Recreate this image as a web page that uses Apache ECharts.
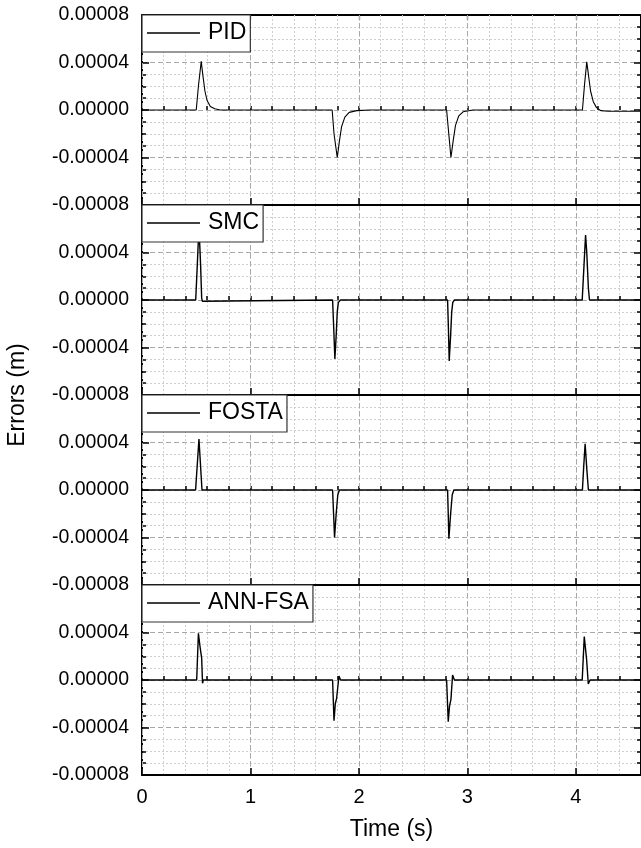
<!DOCTYPE html>
<html>
<head>
<meta charset="utf-8">
<script src="https://cdn.jsdelivr.net/npm/echarts@6/dist/echarts.min.js"></script>
<style>html,body{margin:0;padding:0;background:#fff;}#c{width:641px;height:848px;}</style>
</head>
<body>
<div id="c"></div>
<script>
// Data (time in s, error in m)
const seriesNames = ['PID', 'SMC', 'FOSTA', 'ANN-FSA'];
const yTicks = [-0.00008, -0.00004, 0, 0.00004, 0.00008];
const xTicks = [0, 1, 2, 3, 4];
const xMax = 4.6;

const pidData = [
  [0,0],[0.5,0],[0.52,2.0e-5],[0.546,4.1e-5],[0.56,3.0e-5],[0.58,1.6e-5],[0.60,0.8e-5],[0.63,0.3e-5],[0.67,0.1e-5],[0.72,0],
  [1.753,0],[1.77,-2.0e-5],[1.80,-4.0e-5],[1.82,-2.6e-5],[1.84,-1.4e-5],[1.87,-0.6e-5],[1.91,-0.2e-5],[1.98,-0.05e-5],[2.1,0],
  [2.808,0],[2.83,-2.2e-5],[2.848,-4.0e-5],[2.87,-2.5e-5],[2.89,-1.3e-5],[2.92,-0.5e-5],[2.96,-0.15e-5],[3.05,0],
  [4.06,0],[4.08,2.2e-5],[4.10,4.05e-5],[4.115,3.0e-5],[4.135,1.6e-5],[4.16,0.7e-5],[4.19,0.2e-5],[4.23,-0.05e-5],[4.3,-0.1e-5],[4.6,-0.1e-5]
];
const smcData = [
  [0,0],[0.495,0],[0.51,3.0e-5],[0.525,6.2e-5],[0.54,3.0e-5],[0.55,0.2e-5],[0.556,-0.1e-5],[0.57,0],
  [1.757,0],[1.768,-2.5e-5],[1.778,-4.97e-5],[1.79,-3.0e-5],[1.80,-1.0e-5],[1.81,-0.2e-5],[1.83,0],
  [2.817,0],[2.825,-2.5e-5],[2.832,-5.14e-5],[2.845,-3.0e-5],[2.855,-1.0e-5],[2.865,-0.2e-5],[2.88,0],
  [4.058,0],[4.075,3.0e-5],[4.089,5.47e-5],[4.10,4.0e-5],[4.115,1.0e-5],[4.125,0],[4.6,0]
];
const fostaData = [
  [0,0],[0.494,0],[0.51,2.2e-5],[0.525,4.3e-5],[0.54,2.0e-5],[0.553,0],
  [1.757,0],[1.766,-2.0e-5],[1.775,-3.99e-5],[1.79,-2.0e-5],[1.805,-0.4e-5],[1.82,0],
  [2.817,0],[2.823,-2.0e-5],[2.829,-4.11e-5],[2.845,-2.0e-5],[2.86,-0.4e-5],[2.875,0],
  [4.06,0],[4.072,2.0e-5],[4.085,3.9e-5],[4.10,1.8e-5],[4.115,0],[4.6,0]
];
const annData = [
  [0,0],[0.504,0],[0.52,3.93e-5],[0.535,2.8e-5],[0.55,1.85e-5],[0.558,-0.28e-5],[0.565,0],
  [1.757,0],[1.77,-3.43e-5],[1.782,-2.0e-5],[1.794,-1.54e-5],[1.816,0.34e-5],[1.83,0],
  [2.808,0],[2.823,-3.51e-5],[2.835,-2.2e-5],[2.848,-1.63e-5],[2.863,0.42e-5],[2.88,0],
  [4.058,0],[4.077,3.65e-5],[4.09,2.5e-5],[4.099,1.68e-5],[4.114,-0.34e-5],[4.13,0],[4.6,0]
];
const allData = [pidData, smcData, fostaData, annData];

const FONT = 'Liberation Sans, Arial, sans-serif';
const gridTops = [15, 205, 395, 585];
const gridH = 190, gridL = 142;

const grids = [], xAxes = [], yAxes = [], series = [], legends = [];
for (let i = 0; i < 4; i++) {
  grids.push({left: gridL, top: gridTops[i], right: 0, height: gridH});
}
// bottom x axes: major (interval 1) — indices 0..3
for (let i = 0; i < 4; i++) {
  xAxes.push({
    type: 'value', gridIndex: i, position: 'bottom',
    min: xTicks[0], max: xMax, interval: 1,
    axisLine: {show: true, onZero: false, lineStyle: {color: '#000', width: 2}},
    axisTick: {show: true, inside: true, length: 7, lineStyle: {color: '#000', width: 1.5}},
    axisLabel: {show: i === 3, fontSize: 20, color: '#000', fontFamily: FONT, margin: 12, showMaxLabel: false},
    splitLine: {show: true, lineStyle: {color: '#a8a8a8', type: [5, 3], width: 1}},
    z: 3
  });
}
// bottom x axes: minor (interval 0.2) — indices 4..7
for (let i = 0; i < 4; i++) {
  xAxes.push({
    type: 'value', gridIndex: i, position: 'bottom',
    min: xTicks[0], max: xMax, interval: 0.2,
    axisLine: {show: false},
    axisTick: {show: true, inside: true, length: 4, lineStyle: {color: '#000', width: 1.5}},
    axisLabel: {show: false},
    splitLine: {show: true, lineStyle: {color: '#cfcfcf', type: [2, 2], width: 1}},
    z: 2
  });
}
// top x axes (border) — indices 8..11
for (let i = 0; i < 4; i++) {
  xAxes.push({
    type: 'value', gridIndex: i, position: 'top',
    min: xTicks[0], max: xMax, interval: 1,
    axisLine: {show: true, onZero: false, lineStyle: {color: '#000', width: 2}},
    axisTick: {show: i === 0, inside: true, length: 5, lineStyle: {color: '#000', width: 1.2}},
    axisLabel: {show: false}, splitLine: {show: false}
  });
}
// left y axes
for (let i = 0; i < 4; i++) {
  yAxes.push({
    type: 'value', gridIndex: i, position: 'left',
    min: yTicks[0], max: yTicks[yTicks.length - 1], interval: 0.00004,
    axisLine: {show: true, onZero: false, lineStyle: {color: '#000', width: 2}},
    axisTick: {show: true, inside: true, length: 7, lineStyle: {color: '#000', width: 1.5}},
    minorTick: {show: true, splitNumber: 4, length: 4, lineStyle: {color: '#000', width: 1.5}},
    axisLabel: {
      fontSize: 19.5, color: '#000', fontFamily: FONT, margin: 13,
      showMaxLabel: i === 0,
      formatter: v => v.toFixed(5)
    },
    splitLine: {show: true, lineStyle: {color: '#a8a8a8', type: [5, 3], width: 1}},
    minorSplitLine: {show: true, lineStyle: {color: '#cfcfcf', type: [2, 2], width: 1}}
  });
}
// right y axes (right border)
for (let i = 0; i < 4; i++) {
  yAxes.push({
    type: 'value', gridIndex: i, position: 'right',
    min: yTicks[0], max: yTicks[yTicks.length - 1], interval: 0.00004,
    axisLine: {show: true, onZero: false, lineStyle: {color: '#000', width: 2}},
    axisTick: {show: true, inside: true, length: 7, lineStyle: {color: '#000', width: 1.5}},
    minorTick: {show: true, splitNumber: 4, length: 4, lineStyle: {color: '#000', width: 1.5}},
    axisLabel: {show: false}, splitLine: {show: false}
  });
}
for (let i = 0; i < 4; i++) {
  series.push({
    name: seriesNames[i], type: 'line', xAxisIndex: i, yAxisIndex: i,
    data: allData[i], symbol: 'none', showSymbol: false,
    lineStyle: {color: '#000', width: i === 0 ? 1.1 : 1.4},
    itemStyle: {color: '#000'},
    z: 3
  });
  legends.push({
    data: [seriesNames[i]], left: gridL, top: gridTops[i],
    orient: 'horizontal', icon: 'rect',
    backgroundColor: '#fff', borderColor: '#333', borderWidth: 1.2, borderRadius: 0,
    padding: [6, 4, 7, 5],
    itemWidth: 53, itemHeight: 1.6, itemGap: 0,
    itemStyle: {color: '#000'},
    textStyle: {fontSize: 23, color: '#000', fontFamily: FONT, lineHeight: 24, padding: [0, 0, 0, 3]},
    selectedMode: false, z: 10
  });
}

const chart = echarts.init(document.getElementById('c'), null, {renderer: 'canvas'});
chart.setOption({
  animation: false,
  backgroundColor: '#fff',
  grid: grids, xAxis: xAxes, yAxis: yAxes, series: series, legend: legends,
  graphic: [
    {type: 'text', x: 391.5, y: 830, style: {text: 'Time (s)', font: '23px ' + FONT, fill: '#000', align: 'center', verticalAlign: 'middle'}},
    {type: 'text', x: 18, y: 395, rotation: Math.PI / 2, style: {text: 'Errors (m)', font: '23px ' + FONT, fill: '#000', align: 'center', verticalAlign: 'middle'}}
  ]
});
</script>
</body>
</html>
